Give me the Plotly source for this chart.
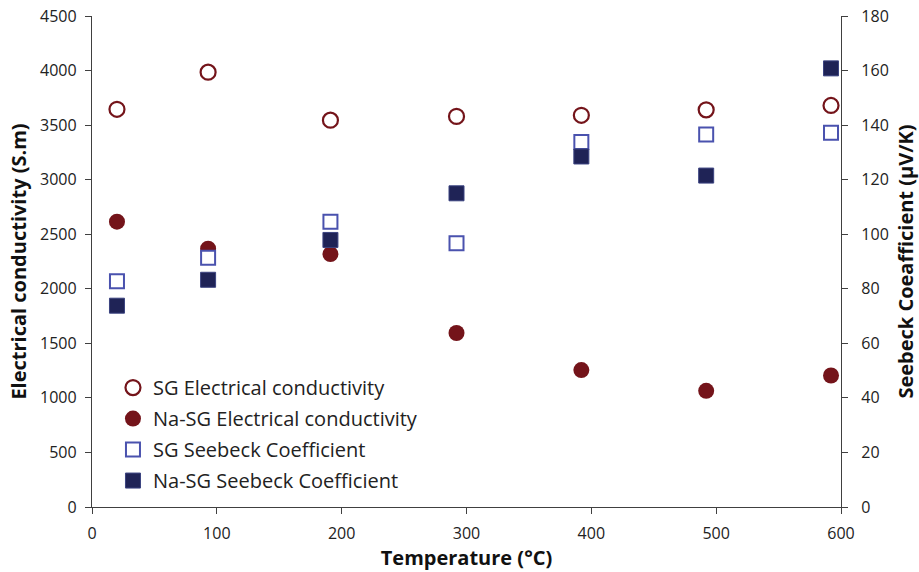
import plotly.graph_objects as go

temperature = [20, 93, 191, 292, 392, 492, 592]
sg_conductivity = [3645, 3985, 3545, 3580, 3590, 3640, 3680]
nasg_conductivity = [2615, 2367, 2318, 1595, 1255, 1065, 1205]
sg_seebeck = [82.8, 91.4, 104.6, 96.7, 133.8, 136.6, 137.2]
nasg_seebeck = [73.8, 83.3, 97.9, 115, 128.5, 121.5, 160.8]

dark_red = "#74141A"
navy = "#1F2356"
blue_edge = "#4A52AE"
FONT = "Open Sans, Lato, sans-serif"

fig = go.Figure()
fig.add_trace(go.Scatter(x=temperature, y=sg_conductivity, mode="markers",
                         name="SG Electrical conductivity", legendgroup="a",
                         marker=dict(symbol="circle-open", size=15, color=dark_red, line=dict(width=2.2, color=dark_red))))
fig.add_trace(go.Scatter(x=temperature, y=nasg_conductivity, mode="markers",
                         name="Na-SG Electrical conductivity", legendgroup="b",
                         marker=dict(symbol="circle", size=16, color=dark_red, line=dict(width=0))))
fig.add_trace(go.Scatter(x=temperature, y=sg_seebeck, mode="markers", yaxis="y2",
                         name="SG Seebeck Coefficient", legendgroup="c",
                         marker=dict(symbol="square", size=14, color="white", line=dict(width=2, color=blue_edge))))
fig.add_trace(go.Scatter(x=temperature, y=nasg_seebeck, mode="markers", yaxis="y2",
                         name="Na-SG Seebeck Coefficient", legendgroup="d",
                         marker=dict(symbol="square", size=15, color=navy, line=dict(width=1, color="#3B4380"))))

axis_common = dict(showgrid=False, zeroline=False, showline=True, linecolor="#404040", linewidth=1.3,
                   ticks="outside", ticklen=6, tickcolor="#404040", tickwidth=1.3, automargin=False,
                   tickfont=dict(family=FONT, size=16, color="#222222"))

fig.update_layout(
    width=919, height=572,
    margin=dict(l=92, r=78, t=16, b=65),
    paper_bgcolor="white", plot_bgcolor="white",
    font=dict(family=FONT, color="#111111"),
    xaxis=dict(range=[0, 600], dtick=100, ticklabelstandoff=6,
               title=dict(text="<b>Temperature (°C)</b>", font=dict(size=20), standoff=7), **axis_common),
    yaxis=dict(range=[0, 4500], dtick=500, ticklabelstandoff=5,
               title=dict(text="<b>Electrical conductivity (S.m)</b>", font=dict(size=20), standoff=8), **axis_common),
    yaxis2=dict(range=[0, 180], dtick=20, overlaying="y", side="right", ticklabelstandoff=10,
                title=dict(text="<b>Seebeck Coeafficient (µV/K)</b>", font=dict(size=20), standoff=12), **axis_common),
    legend=dict(x=0.028, y=0.283, xanchor="left", yanchor="top", bgcolor="rgba(0,0,0,0)",
                font=dict(family=FONT, size=20, color="#222222"), itemsizing="trace", tracegroupgap=2),
    showlegend=True,
)

fig.write_html("out.html")
